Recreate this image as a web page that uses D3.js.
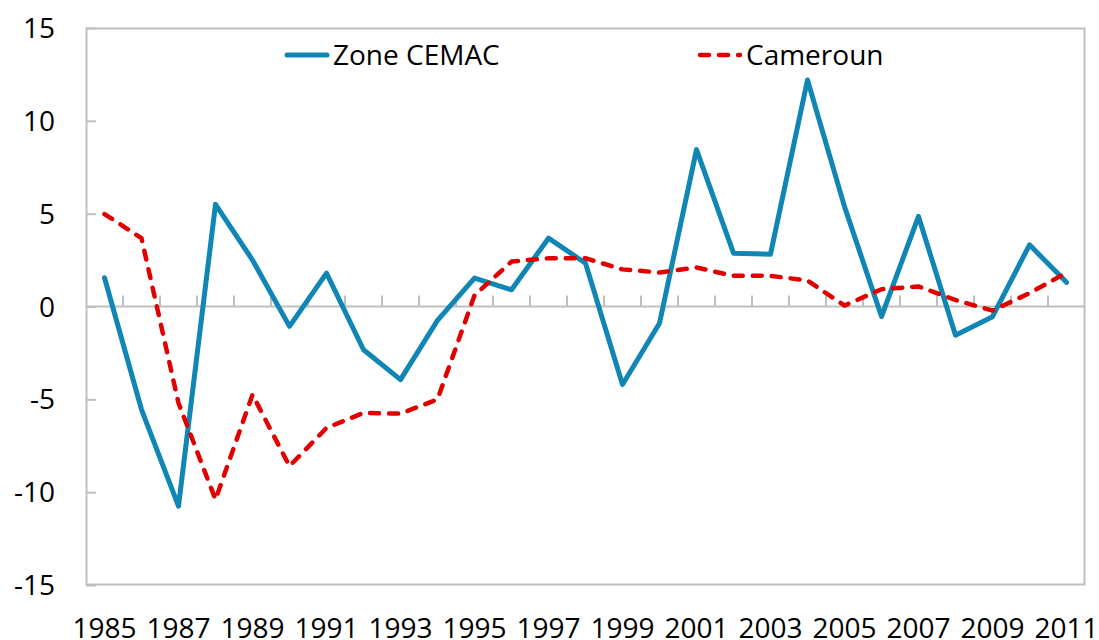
<!DOCTYPE html>
<html>
<head>
<meta charset="utf-8">
<script src="https://cdn.jsdelivr.net/npm/d3@7"></script>
<style>
	body { margin: 0; background: #fff; }
	svg text { font-family: "Open Sans", "Noto Sans", sans-serif; fill: #000; }
</style>
</head>
<body>
<svg width="1099" height="640"></svg>
<script>
/* taux de croissance: zone CEMAC vs Cameroun, 1985-2011 */

var years = d3.range(1985, 2012);

var cemac = [1.55, -5.55, -10.75, 5.5, 2.5, -1.07, 1.8, -2.33, -3.94, -0.75,
	1.53, 0.9, 3.68, 2.33, -4.2, -0.9, 8.45, 2.87, 2.82, 12.2,
	5.38, -0.54, 4.85, -1.55, -0.55, 3.32, 1.3];

var cameroun = [4.98, 3.68, -5.2, -10.4, -4.75, -8.6, -6.54, -5.73, -5.77, -5.0,
	0.6, 2.42, 2.6, 2.6, 2.0, 1.83, 2.1, 1.65, 1.65, 1.4,
	0.05, 0.93, 1.08, 0.35, -0.22, 0.72, 1.82];

var yTicks = [-15, -10, -5, 0, 5, 10, 15];

var series = [
	{ name: "Zone CEMAC", values: cemac, color: "#0f86b3", width: 5, dash: null, lx: 284, tx: 333 },
	{ name: "Cameroun", values: cameroun, color: "#e00000", width: 4.5, dash: "9,10", lx: 697, tx: 746 }
];

function draw_chart() {
	var svg = d3.select("svg");
	var left = 86, right = 1085, top = 28, bottom = 585;
	var fs = 28;

	var x = d3.scaleBand()
		.domain(years)
		.range([left, right]);

	var y = d3.scaleLinear()
		.domain([-15, 15])
		.range([bottom, top]);

	var grey = "#bfbfbf";

	// cadre
	svg.append("rect")
		.attr("x", left + 0.5)
		.attr("y", top + 0.5)
		.attr("width", right - left - 1)
		.attr("height", bottom - top - 1)
		.attr("fill", "none")
		.attr("stroke", grey)
		.attr("stroke-width", 2);

	// axe vertical: ticks vers l'interieur
	var yAxis = svg.append("g")
		.attr("transform", "translate(" + left + ",0)")
		.call(d3.axisRight(y).tickValues(yTicks).tickSize(10).tickFormat(""));
	yAxis.select(".domain").remove();
	yAxis.selectAll("line").attr("stroke", grey).attr("stroke-width", 2);

	svg.append("g")
		.selectAll("text")
		.data(yTicks)
		.enter().append("text")
		.attr("x", 55)
		.attr("y", function(d) { return y(d); })
		.attr("dy", "0.36em")
		.attr("text-anchor", "end")
		.attr("font-size", fs)
		.text(function(d) { return d; });

	// axe horizontal sur zero, ticks entre categories
	svg.append("line")
		.attr("x1", left)
		.attr("x2", right)
		.attr("y1", y(0))
		.attr("y2", y(0))
		.attr("stroke", grey)
		.attr("stroke-width", 2);

	svg.append("g")
		.selectAll("line")
		.data(years.slice(1))
		.enter().append("line")
		.attr("x1", function(d) { return x(d); })
		.attr("x2", function(d) { return x(d); })
		.attr("y1", y(0))
		.attr("y2", y(0) - 11)
		.attr("stroke", grey)
		.attr("stroke-width", 2);

	svg.append("g")
		.selectAll("text")
		.data(years.filter(function(d) { return (d - 1985) % 2 == 0; }))
		.enter().append("text")
		.attr("x", function(d) { return x(d) + x.bandwidth() / 2; })
		.attr("y", 638)
		.attr("text-anchor", "middle")
		.attr("font-size", fs)
		.text(function(d) { return d; });

	var line = d3.line()
		.x(function(d, i) { return x(years[i]) + x.bandwidth() / 2; })
		.y(function(d) { return y(d); });

	for (var i = 0; i < series.length; i++) {
		var s = series[i];
		svg.append("path")
			.datum(s.values)
			.attr("d", line)
			.attr("fill", "none")
			.attr("stroke", s.color)
			.attr("stroke-width", s.width)
			.attr("stroke-linejoin", "round")
			.attr("stroke-linecap", "round")
			.attr("stroke-dasharray", s.dash);

		// legende
		svg.append("line")
			.attr("x1", s.lx + 3)
			.attr("x2", s.tx - 6)
			.attr("y1", 55)
			.attr("y2", 55)
			.attr("stroke", s.color)
			.attr("stroke-width", s.width)
			.attr("stroke-linecap", "round")
			.attr("stroke-dasharray", s.dash);

		svg.append("text")
			.attr("x", s.tx)
			.attr("y", 65)
			.attr("font-size", fs)
			.text(s.name);
	}
}

draw_chart();
</script>
</body>
</html>
